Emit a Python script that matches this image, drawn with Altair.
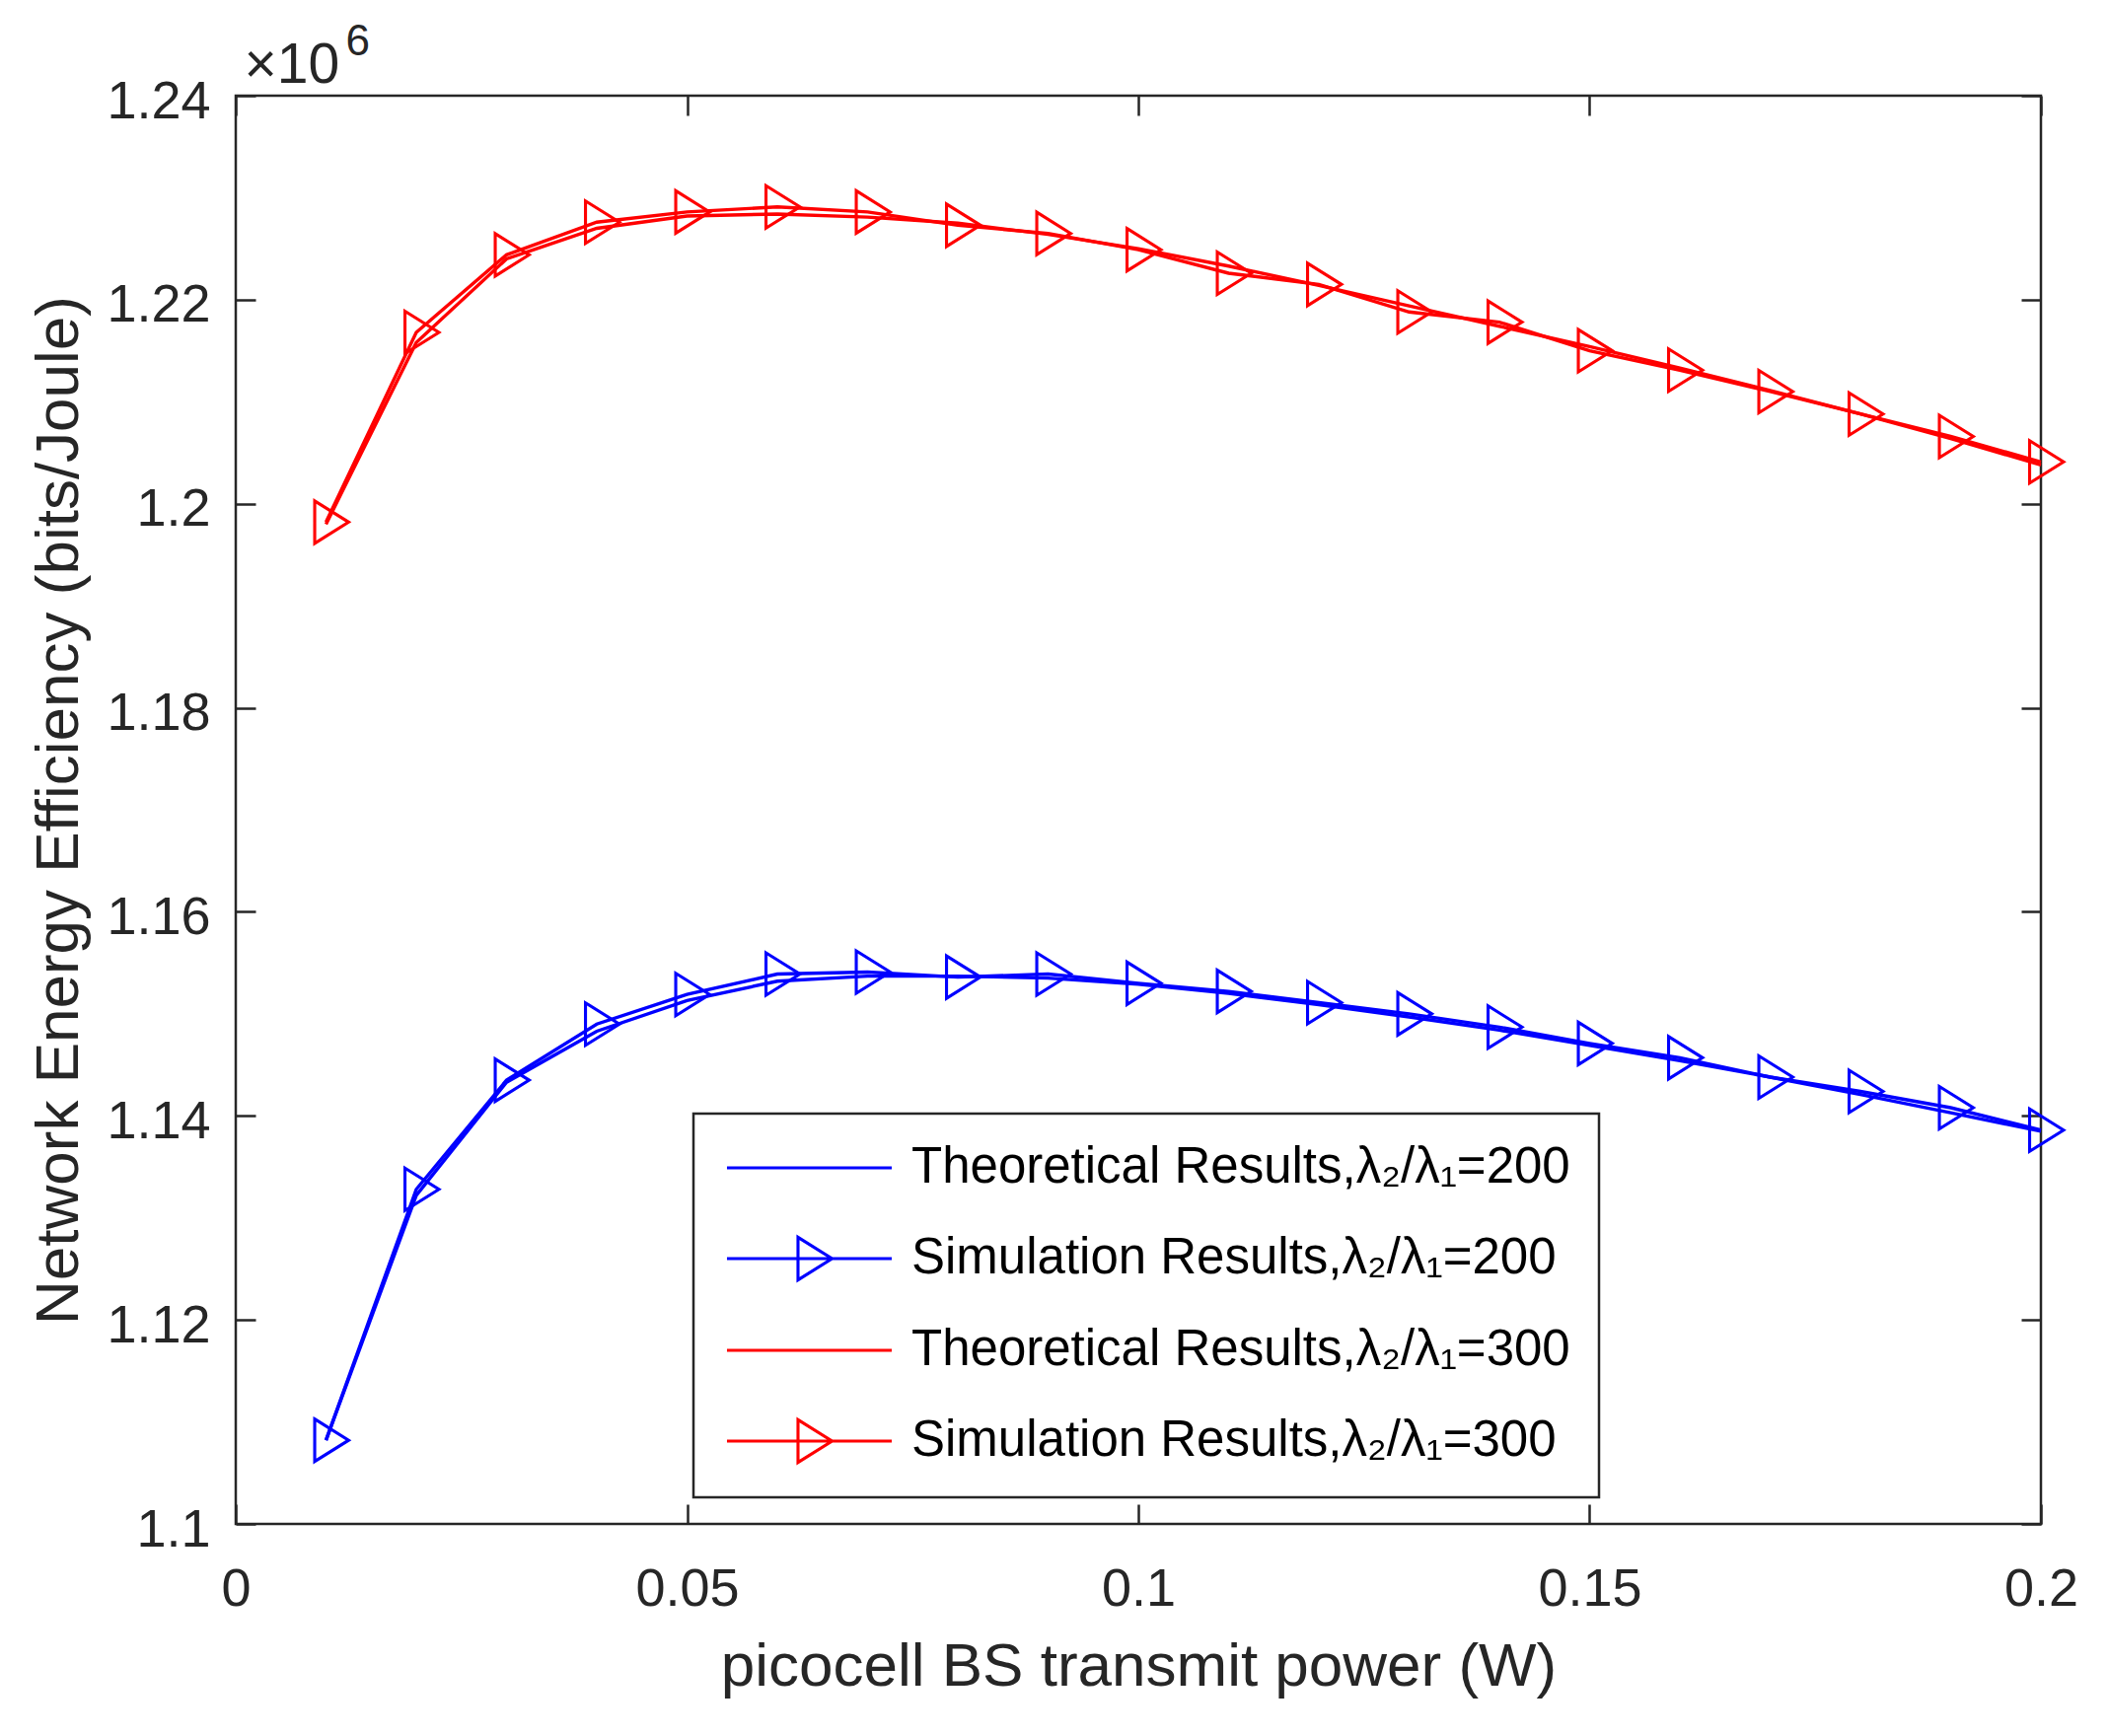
import altair as alt
import pandas as pd

# ---- data (values in units of 10^6 bits/Joule) ----
power_w = [0.01, 0.02, 0.03, 0.04, 0.05, 0.06, 0.07, 0.08, 0.09, 0.10,
           0.11, 0.12, 0.13, 0.14, 0.15, 0.16, 0.17, 0.18, 0.19, 0.20]

theory_200 = [1.1082, 1.1322, 1.1433, 1.1483, 1.1513, 1.1532, 1.1537, 1.1537, 1.1535, 1.1529,
              1.1520, 1.1509, 1.1497, 1.1484, 1.1469, 1.1454, 1.1438, 1.1421, 1.1403, 1.1385]
sim_200 = [1.1082, 1.1328, 1.1435, 1.1490, 1.1519, 1.1539, 1.1541, 1.1536, 1.1539, 1.1530,
           1.1522, 1.1511, 1.1500, 1.1487, 1.1471, 1.1457, 1.1438, 1.1424, 1.1408, 1.1386]
theory_300 = [1.1980, 1.2158, 1.2240, 1.2270, 1.2282, 1.2284, 1.2281, 1.2275, 1.2264, 1.2250,
              1.2233, 1.2214, 1.2194, 1.2174, 1.2154, 1.2133, 1.2111, 1.2088, 1.2064, 1.2038]
sim_300 = [1.1982, 1.2168, 1.2244, 1.2276, 1.2286, 1.2291, 1.2286, 1.2273, 1.2265, 1.2249,
           1.2226, 1.2215, 1.2188, 1.2178, 1.2150, 1.2131, 1.2110, 1.2088, 1.2066, 1.2041]

series_names = [
    "Theoretical Results,λ₂/λ₁=200",
    "Simulation Results,λ₂/λ₁=200",
    "Theoretical Results,λ₂/λ₁=300",
    "Simulation Results,λ₂/λ₁=300",
]
series_colors = ["#0000ff", "#0000ff", "#ff0000", "#ff0000"]

x_ticks = [0, 0.05, 0.1, 0.15, 0.2]
y_ticks = [1.1, 1.12, 1.14, 1.16, 1.18, 1.2, 1.22, 1.24]

x_title = "picocell BS transmit power (W)"
y_title = "Network Energy Efficiency (bits/Joule)"
exp_base = "×10"
exp_power = "6"

# ---- tables ----
theory_df = pd.concat([
    pd.DataFrame({"x": power_w, "y": theory_200, "series": series_names[0]}),
    pd.DataFrame({"x": power_w, "y": theory_300, "series": series_names[2]}),
])
sim_df = pd.concat([
    pd.DataFrame({"x": power_w, "y": sim_200, "series": series_names[1]}),
    pd.DataFrame({"x": power_w, "y": sim_300, "series": series_names[3]}),
])
all_df = pd.concat([theory_df, sim_df])

FONT = "Liberation Sans"
INK = "#262626"
W, H = 1830, 1448
LW = 3.4
MW = 3.1

marker_path = "M-0.533,-1L1.067,0L-0.533,1Z"
legend_line = "M-3.48,0L3.48,0"
legend_line_marker = "M-3.48,0L3.48,0M-0.48,-0.9L0.96,0L-0.48,0.9Z"
legend_shapes = [legend_line, legend_line_marker, legend_line, legend_line_marker]

x_scale = alt.Scale(domain=[0, 0.2], nice=False, zero=False)
y_scale = alt.Scale(domain=[1.1, 1.24], nice=False, zero=False)
color_scale = alt.Scale(domain=series_names, range=series_colors)
color_enc = alt.Color("series:N", scale=color_scale, sort=series_names)

legend = alt.Legend(
    title=None,
    orient="none",
    legendX=464,
    legendY=1032,
    padding=29,
    rowPadding=39,
    symbolSize=2304,
    symbolOffset=62.5,
    labelOffset=77.5,
    symbolStrokeWidth=MW,
    symbolFillColor="transparent",
    symbolOpacity=1,
    labelFont=FONT,
    labelFontSize=51,
    labelColor="#000000",
    labelLimit=3000,
    fillColor="#ffffff",
    strokeColor=INK,
)

# layer 0: draws nothing, only carries the legend (line / line+marker symbols)
legend_layer = alt.Chart(all_df).transform_filter(alt.datum.x < 0).mark_point(
    filled=False, strokeWidth=MW, opacity=1
).encode(
    x=alt.X("x:Q", scale=x_scale, axis=None),
    y=alt.Y("y:Q", scale=y_scale, axis=None),
    color=alt.Color("series:N", scale=color_scale, sort=series_names, legend=legend),
    shape=alt.Shape("series:N", scale=alt.Scale(domain=series_names, range=legend_shapes),
                    sort=series_names, legend=legend),
)

# layer 1: theoretical curves + labelled axes (bottom / left)
theory = alt.Chart(theory_df).mark_line(strokeWidth=LW).encode(
    x=alt.X(
        "x:Q",
        scale=x_scale,
        axis=alt.Axis(
            orient="bottom",
            values=x_ticks,
            format="~g",
            ticks=False,
            tickSize=0,
            labelFlush=False,
            labelPadding=39,
            title=x_title,
            titleX=W / 2,
            titleY=163,
            titleAlign="center",
            titleBaseline="alphabetic",
        ),
    ),
    y=alt.Y(
        "y:Q",
        scale=y_scale,
        axis=alt.Axis(
            orient="left",
            values=y_ticks,
            format="~g",
            ticks=False,
            tickSize=0,
            labelFlush=False,
            labelOffset=6,
            labelPadding=26,
            title=y_title,
            titleAngle=270,
            titleX=-161,
            titleY=H / 2,
            titleAlign="center",
            titleBaseline="alphabetic",
        ),
    ),
    color=color_enc,
)

# layer 2: simulation curves; axes give inward ticks on bottom and left edges
sim_lines = alt.Chart(sim_df).mark_line(strokeWidth=LW).encode(
    x=alt.X("x:Q", scale=x_scale,
            axis=alt.Axis(orient="top", offset=-H, values=x_ticks, labels=False,
                          title=exp_power, titleAnchor="start", titleAlign="left",
                          titleX=111, titleY=-42 - H, titleBaseline="alphabetic",
                          titleFontSize=44)),
    y=alt.Y("y:Q", scale=y_scale,
            axis=alt.Axis(orient="right", offset=-W, values=y_ticks, labels=False, title=None)),
    color=color_enc,
)

# layer 3: simulation markers; axes give inward ticks on top and right edges
sim_points = alt.Chart(sim_df).mark_point(
    filled=False, size=1849, strokeWidth=MW, opacity=1, shape=marker_path
).encode(
    x=alt.X("x:Q", scale=x_scale,
            axis=alt.Axis(orient="bottom", offset=-H, values=x_ticks, labels=False,
                          title=exp_base, titleAnchor="start", titleAlign="left",
                          titleX=8, titleY=-14, titleBaseline="alphabetic",
                          titleFontSize=57)),
    y=alt.Y("y:Q", scale=y_scale,
            axis=alt.Axis(orient="left", offset=-W, values=y_ticks, labels=False, title=None)),
    color=color_enc,
)

chart = (
    alt.layer(legend_layer, theory, sim_lines, sim_points)
    .resolve_axis(x="independent", y="independent")
    .properties(
        width=W,
        height=H,
        padding={"left": 231, "top": 89, "right": 60, "bottom": 207},
        autosize=alt.AutoSizeParams(type="none"),
        background="#ffffff",
    )
    .configure_view(stroke=INK, strokeWidth=2.5)
    .configure_axis(
        domain=False,
        grid=False,
        labelFont=FONT,
        labelFontSize=54,
        labelColor=INK,
        tickColor=INK,
        tickWidth=2.5,
        tickSize=20,
        titleFont=FONT,
        titleFontSize=62,
        titleFontWeight="normal",
        titleColor=INK,
    )
    .configure_legend(strokeWidth=2.5)
)

chart.save("out.html", embed_options={"renderer": "svg", "actions": False})
